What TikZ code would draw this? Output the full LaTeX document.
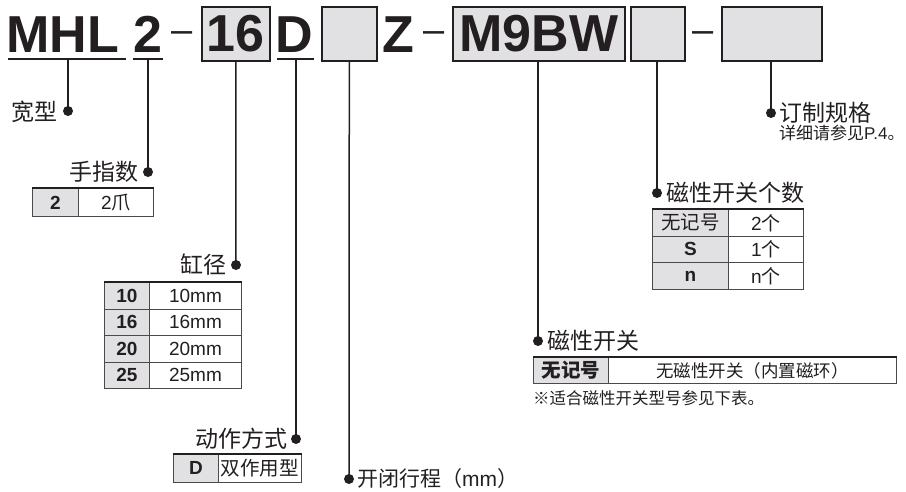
\documentclass[tikz,border=0pt]{standalone}
\usepackage{fontspec}
\setmainfont{Liberation Sans}
\newfontfamily\cjk{Noto Sans CJK SC}
\newfontfamily\lat{Liberation Sans}
\definecolor{ink}{HTML}{231F20}
\definecolor{boxgray}{HTML}{E1E1E3}
\definecolor{cellline}{HTML}{4A4A4C}
\begin{document}
\begin{tikzpicture}[x=1pt,y=-1pt,
  title/.style={font=\fontsize{52}{52}\selectfont\bfseries, text=ink, inner sep=0, anchor=base},
  sep/.style={font=\fontsize{38}{38}\selectfont, text=ink, inner sep=0, anchor=base},
  tbox/.style={draw=ink, line width=1.6pt, fill=boxgray, inner sep=0, anchor=north west,
    font=\fontsize{52}{52}\selectfont\bfseries, text=ink},
  uline/.style={draw=ink, line width=1.5pt},
  conn/.style={draw=ink, line width=1.5pt},
  dot/.style={circle, fill=ink, inner sep=0, minimum size=10pt},
  lbl/.style={font=\cjk\fontsize{23}{23}\selectfont, text=ink, inner sep=0},
  cell/.style={draw=cellline, line width=0.9pt, inner sep=0, anchor=north west, text=ink},
  kcell/.style={cell, fill=boxgray, font=\fontsize{19}{19}\selectfont\bfseries},
  vcell/.style={cell, fill=white, font=\fontsize{19}{19}\selectfont},
  topline/.style={draw=ink, line width=2pt},
  note/.style={font=\cjk\fontsize{16.5}{16.5}\selectfont, text=ink, inner sep=0, anchor=west}
]
\useasboundingbox (0,0) rectangle (906,492);

% ---- model code row ----
\node[title] (mhl) at (63,53) {MHL};
\coordinate (umhlA) at (8,59);
\coordinate (umhlB) at (126,59);
\draw[uline] (umhlA) -- (umhlB);

\node[title] (two) at (148,53) {2};
\coordinate (utwoA) at (133,59);
\coordinate (utwoB) at (163,59);
\draw[uline] (utwoA) -- (utwoB);

\node[sep] (dashA) at (182.5,42.5) {–};

\node[tbox, minimum width=68, minimum height=54] (b16) at (201,6) {16};

\node[title] (dd) at (294,53) {D};
\coordinate (uddA) at (277,59);
\coordinate (uddB) at (314,59);
\draw[uline] (uddA) -- (uddB);

\node[tbox, minimum width=55, minimum height=54] (bstroke) at (321,6) {};

\node[title] (zz) at (398,53) {Z};

\node[sep] (dashB) at (434.5,42.5) {–};

\node[tbox, minimum width=172, minimum height=54] (bsw) at (452,6) {M9BW};

\node[tbox, minimum width=54, minimum height=54] (bnum) at (630,6) {};

\node[sep] (dashC) at (703,42.5) {–};

\node[tbox, minimum width=100, minimum height=54] (bopt) at (721,6) {};

% ---- connector start points ----
\coordinate (cmhl) at (68,59);
\coordinate (ctwo) at (148,59);
\coordinate (cdd) at (296,59);

% ---- dots ----
\node[dot] (d1) at (68,111) {};
\node[dot] (d2) at (148,172) {};
\node[dot] (d3) at (236,265) {};
\node[dot] (d4) at (296,439) {};
\node[dot] (d5) at (349,479) {};
\node[dot] (d6) at (538,341) {};
\node[dot] (d7) at (657,193) {};
\node[dot] (d8) at (771,113) {};

\draw[conn] (cmhl) -- (d1.center);
\draw[conn] (ctwo) -- (d2.center);
\draw[conn] (b16.south) -- (d3.center);
\draw[conn] (cdd) -- (d4.center);
\draw[conn] (bstroke.south) -- (d5.center);
\draw[conn] (bsw.south -| d6) -- (d6.center);
\draw[conn] (bnum.south -| d7) -- (d7.center);
\draw[conn] (bopt.south -| d8) -- (d8.center);

% ---- labels ----
\node[lbl, anchor=east] (l1) at (58,112) {宽型};
\node[lbl, anchor=east] (l2) at (139,172) {手指数};
\node[lbl, anchor=east] (l3) at (227,265) {缸径};
\node[lbl, anchor=east] (l4) at (288,439) {动作方式};
\node[lbl, anchor=west, font=\cjk\fontsize{21}{21}\selectfont] (l5) at (357,479) {开闭行程（{\lat mm}）};
\node[lbl, anchor=west] (l6) at (547,341) {磁性开关};
\node[lbl, anchor=west] (l7) at (666,193) {磁性开关个数};
\node[lbl, anchor=west] (l8) at (779,113) {订制规格};
\node[note, font=\cjk\fontsize{17}{17}\selectfont] (n8) at (779,133) {详细请参见{\lat P.4}。};

% ---- finger table ----
\node[kcell, minimum width=46, minimum height=28] (fk) at (32,188) {2};
\node[vcell, minimum width=75, minimum height=28] (fv) at (78,188) {2\cjk 爪};
\draw[topline] (fk.north west) -- (fv.north east);

% ---- bore table ----
\node[kcell, minimum width=45, minimum height=26.5] (bk1) at (104,282) {10};
\node[vcell, minimum width=92, minimum height=26.5] (bv1) at (149,282) {10mm};
\node[kcell, minimum width=45, minimum height=26.5] (bk2) at (104,308.5) {16};
\node[vcell, minimum width=92, minimum height=26.5] (bv2) at (149,308.5) {16mm};
\node[kcell, minimum width=45, minimum height=26.5] (bk3) at (104,335) {20};
\node[vcell, minimum width=92, minimum height=26.5] (bv3) at (149,335) {20mm};
\node[kcell, minimum width=45, minimum height=26.5] (bk4) at (104,361.5) {25};
\node[vcell, minimum width=92, minimum height=26.5] (bv4) at (149,361.5) {25mm};
\draw[topline] (bk1.north west) -- (bv1.north east);

% ---- action table ----
\node[kcell, minimum width=45, minimum height=28] (ak) at (173,454) {D};
\node[vcell, minimum width=83, minimum height=28, font=\cjk\fontsize{19.5}{19.5}\selectfont] (av) at (218,454) {双作用型};
\draw[topline] (ak.north west) -- (av.north east);

% ---- switch table ----
\node[kcell, minimum width=75, minimum height=26, font=\cjk\fontsize{19.5}{19.5}\selectfont\bfseries] (sk) at (533,357) {无记号};
\node[vcell, minimum width=288, minimum height=26, font=\cjk\fontsize{17.5}{17.5}\selectfont] (sv) at (608,357) {无磁性开关（内置磁环）};
\draw[topline] (sk.north west) -- (sv.north east);
\node[note] (n6) at (533,398) {※适合磁性开关型号参见下表。};

% ---- switch count table ----
\node[kcell, minimum width=76, minimum height=26.67, font=\cjk\fontsize{19.5}{19.5}\selectfont] (ck1) at (652,209) {无记号};
\node[vcell, minimum width=75, minimum height=26.67] (cv1) at (728,209) {2\cjk 个};
\node[kcell, minimum width=76, minimum height=26.67] (ck2) at (652,235.67) {S};
\node[vcell, minimum width=75, minimum height=26.67] (cv2) at (728,235.67) {1\cjk 个};
\node[kcell, minimum width=76, minimum height=26.67] (ck3) at (652,262.33) {n};
\node[vcell, minimum width=75, minimum height=26.67] (cv3) at (728,262.33) {n\cjk 个};
\draw[topline] (ck1.north west) -- (cv1.north east);

\end{tikzpicture}
\end{document}
